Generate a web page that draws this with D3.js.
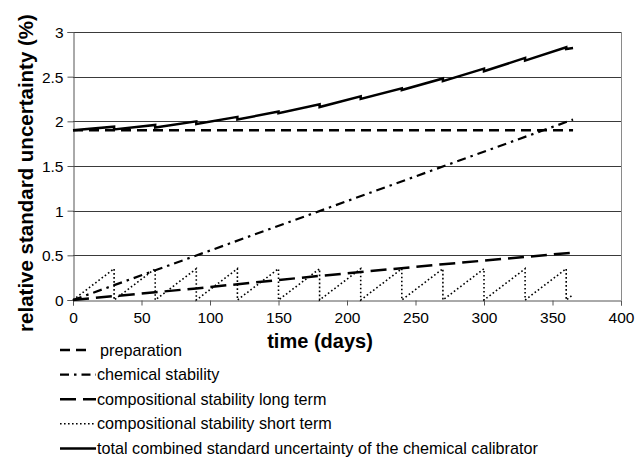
<!DOCTYPE html>
<html>
<head>
<meta charset="utf-8">
<script src="https://cdn.jsdelivr.net/npm/d3@7"></script>
<style>
  body { margin: 0; background: #fff; }
  text { font-family: "Liberation Sans", Arial, sans-serif; }
</style>
</head>
<body>
<div id="mainContainer"></div>
<script>
// values
var prepDays = [0, 365];
var prepValues = [1.90, 1.90];

var chemDays = [0, 365];
var chemValues = [0, 2.02];

var longDays = [0, 90, 180, 270, 365];
var longValues = [0, 0.13, 0.27, 0.40, 0.53];

var shortDays = [0, 30, 30, 60, 60, 90, 90, 120, 120, 150, 150, 180, 180, 210, 210,
                 240, 240, 270, 270, 300, 300, 330, 330, 360, 360, 365];
var shortValues = [0, 0.35, 0, 0.35, 0, 0.35, 0, 0.35, 0, 0.35, 0, 0.35, 0, 0.35, 0,
                   0.35, 0, 0.35, 0, 0.35, 0, 0.35, 0, 0.35, 0, 0.06];

var totalDays = [0, 30, 30, 60, 60, 90, 90, 120, 120, 150, 150, 180, 180, 210, 210,
                 240, 240, 270, 270, 300, 300, 330, 330, 360, 360, 365];
var totalValues = [1.90, 1.94, 1.91, 1.96, 1.93, 2.00, 1.97, 2.05, 2.02, 2.11, 2.09, 2.19, 2.16, 2.28, 2.25,
                   2.37, 2.35, 2.48, 2.45, 2.59, 2.56, 2.71, 2.68, 2.83, 2.81, 2.82];

var xTicks = [0, 50, 100, 150, 200, 250, 300, 350, 400];
var yTicks = [0, 0.5, 1, 1.5, 2, 2.5, 3];

var seriesNames = ["preparation", "chemical stability", "compositional stability long term",
                   "compositional stability short term",
                   "total combined standard uncertainty of the chemical calibrator"];

var series = [
    { name: seriesNames[0], days: prepDays, values: prepValues, dash: "10,6", width: 2.5 },
    { name: seriesNames[1], days: chemDays, values: chemValues, dash: "9,5,2.5,5", width: 2.2 },
    { name: seriesNames[2], days: longDays, values: longValues, dash: "16,7", width: 2.5 },
    { name: seriesNames[3], days: shortDays, values: shortValues, dash: "1.6,2.4", width: 1.6 },
    { name: seriesNames[4], days: totalDays, values: totalValues, dash: null, width: 2.5 }
];

var width = 637, height = 457;
var plotLeft = 73, plotRight = 621, plotTop = 32, plotBottom = 300;

var svg = d3.select('#mainContainer').append('svg')
    .attr('width', width)
    .attr('height', height);

var xscale = d3.scaleLinear().domain([0, 400]).range([plotLeft, plotRight]);
var yscale = d3.scaleLinear().domain([0, 3]).range([plotBottom, plotTop]);

// gridlines
svg.append('g')
    .selectAll('line')
    .data(yTicks.slice(1))
    .enter()
    .append('line')
    .attr('x1', plotLeft).attr('x2', plotRight)
    .attr('y1', function (d) { return Math.round(yscale(d)) + 0.5; })
    .attr('y2', function (d) { return Math.round(yscale(d)) + 0.5; })
    .attr('stroke', '#3a3a3a')
    .attr('stroke-width', 1);

// right border of plot area
svg.append('line')
    .attr('x1', plotRight + 0.5).attr('x2', plotRight + 0.5)
    .attr('y1', plotTop).attr('y2', plotBottom)
    .attr('stroke', '#8a8a8a');

// axes
var xAxis = svg.append('g')
    .attr('transform', 'translate(0,' + (plotBottom + 0.5) + ')')
    .call(d3.axisBottom(xscale).tickValues(xTicks).tickSize(5).tickPadding(6).tickFormat(d3.format('d')));
var yAxis = svg.append('g')
    .attr('transform', 'translate(' + (plotLeft + 0.5) + ',0)')
    .call(d3.axisLeft(yscale).tickValues(yTicks).tickSize(6).tickPadding(4).tickFormat(function (d) { return String(d); }));

[xAxis, yAxis].forEach(function (a) {
    a.select('.domain').attr('stroke', '#555');
    a.selectAll('.tick line').attr('stroke', '#555');
    a.selectAll('.tick text')
        .attr('fill', '#000')
        .style('font-family', '"Liberation Sans", Arial, sans-serif')
        .style('font-size', '15.5px');
});
yAxis.selectAll('.tick text').attr('dy', '0.35em');

// lines
var line = d3.line()
    .x(function (d) { return xscale(d[0]); })
    .y(function (d) { return yscale(d[1]); });

series.forEach(function (s) {
    var pts = s.days.map(function (d, i) { return [d, s.values[i]]; });
    svg.append('path')
        .datum(pts)
        .attr('d', line)
        .attr('fill', 'none')
        .attr('stroke', '#000')
        .attr('stroke-width', s.width)
        .attr('stroke-dasharray', s.dash);
});

// axis titles
svg.append('text')
    .attr('x', 320)
    .attr('y', 348)
    .attr('text-anchor', 'middle')
    .attr('font-weight', 'bold')
    .attr('font-size', '20px')
    .text('time (days)');

svg.append('text')
    .attr('transform', 'translate(33,173) rotate(-90)')
    .attr('text-anchor', 'middle')
    .attr('font-weight', 'bold')
    .attr('font-size', '20.5px')
    .text('relative standard uncertainty (%)');

// legend
var legend = svg.append('g');
series.forEach(function (s, i) {
    var y = 350 + i * 24.6;
    legend.append('line')
        .attr('x1', 60).attr('x2', i === 0 ? 87 : 96)
        .attr('y1', y).attr('y2', y)
        .attr('stroke', '#000')
        .attr('stroke-width', s.width)
        .attr('stroke-dasharray', s.dash);
    legend.append('text')
        .attr('x', i === 0 ? 100 : 97)
        .attr('y', y + 5.5)
        .attr('font-size', '16.2px')
        .text(s.name);
});
</script>
</body>
</html>
